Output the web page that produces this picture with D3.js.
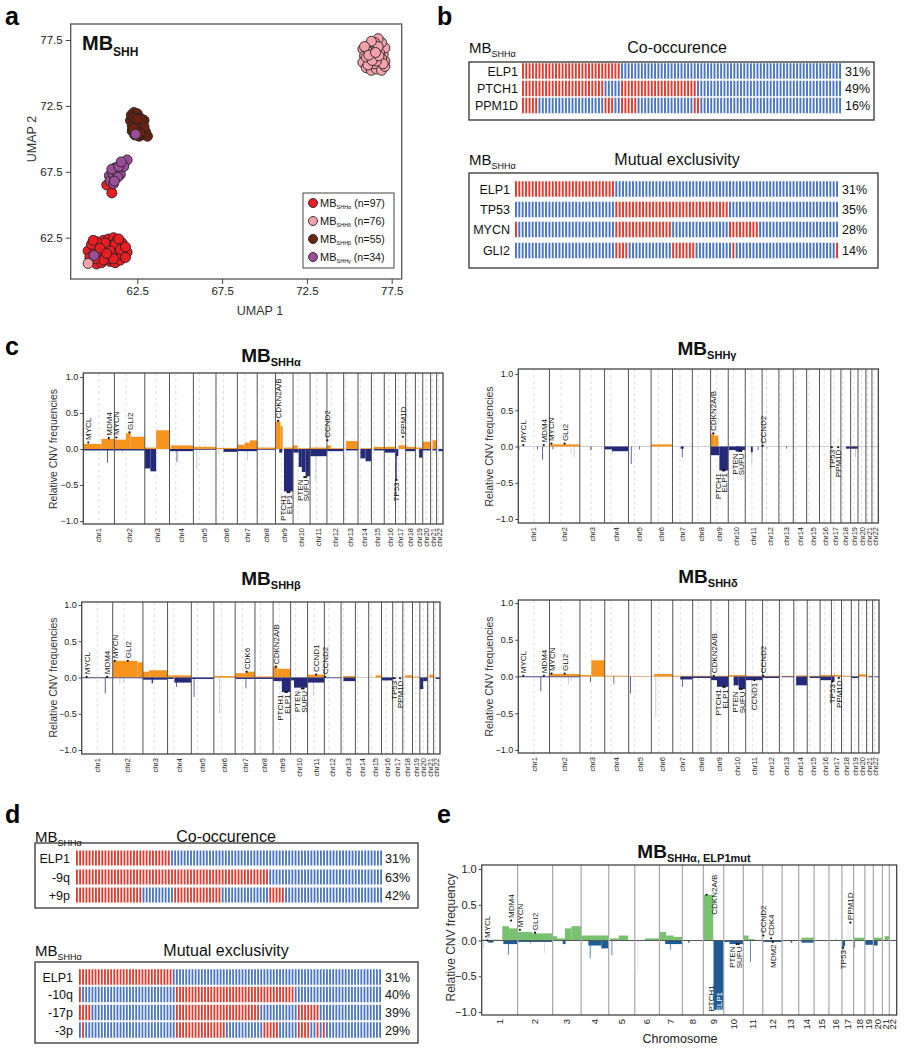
<!DOCTYPE html>
<html>
<head>
<meta charset="utf-8">
<script src="https://cdn.jsdelivr.net/npm/d3@7"></script>
<style>
html,body{margin:0;padding:0;background:#fff;}
svg{display:block;}
text{font-family:"Liberation Sans",Arial,Helvetica,sans-serif;}
</style>
</head>
<body>
<svg id="fig" width="904" height="1050"></svg>
<script>
// ================= DATA =================
// ---- panel a : UMAP ----
const umapTicks = [62.5, 67.5, 72.5, 77.5];
const umapGroups = ["SHHα", "SHHδ", "SHHβ", "SHHγ"];
const umapN = ["(n=97)", "(n=76)", "(n=55)", "(n=34)"];
const umapAlpha = [[59.6,61.5],[59.7,61.0],[59.9,60.7],[60.1,60.5],[60.4,60.6],[60.2,61.1],[60.0,61.6],[60.3,62.0],[60.5,62.3],[60.8,62.4],[61.1,62.5],[61.3,62.3],[61.0,61.9],[60.7,61.8],[60.4,61.4],[60.6,61.0],[60.9,60.7],[61.2,60.6],[61.5,60.8],[61.7,61.1],[61.9,61.4],[61.6,61.5],[61.3,61.2],[61.0,61.3],[60.8,60.9],[61.4,61.9],[61.6,62.1],[61.2,62.0],[60.6,62.1],[60.1,62.2],[59.8,62.0],[60.3,61.7],[60.9,61.5],[61.5,61.6],[61.8,61.8],[60.5,60.8],[60.0,60.9],[61.1,60.9],[59.9,62.3],[61.4,62.4],[60.7,61.3],[61.8,61.0],[60.7,66.5],[61.0,65.9]];
const umapDelta = [[75.8,76.8],[75.9,76.3],[75.8,75.8],[76.0,75.4],[76.3,75.2],[76.6,75.3],[76.9,75.2],[77.1,75.5],[77.1,75.9],[77.0,76.4],[77.1,76.9],[76.9,77.3],[76.7,77.6],[76.5,77.3],[76.2,77.1],[76.0,76.9],[76.3,76.6],[76.6,76.8],[76.8,76.5],[76.5,76.2],[76.2,76.0],[76.5,75.7],[76.8,75.9],[76.1,75.6],[76.4,76.4],[76.7,77.0],[76.9,76.1],[76.0,76.2],[76.3,77.4],[75.9,77.0],[77.0,75.7],[76.6,75.9],[76.35,75.95],[76.75,76.3],[76.15,76.35],[76.55,76.55],[59.6,60.55]];
const umapBeta = [[62.1,71.4],[62.15,71.8],[62.3,72.0],[62.5,71.9],[62.6,71.6],[62.4,71.3],[62.2,71.0],[62.2,70.6],[62.35,70.3],[62.6,70.2],[62.8,70.3],[63.1,70.2],[63.0,70.5],[62.8,70.7],[62.6,70.9],[62.8,71.1],[62.9,71.4],[62.7,71.3],[62.45,70.65],[62.3,71.6],[62.55,71.15],[62.9,70.9],[62.4,70.9],[62.65,70.45],[62.25,70.8],[62.75,71.5],[62.5,71.5]];
const umapGamma = [[60.85,67.2],[60.9,66.8],[61.1,66.6],[61.2,67.0],[61.05,67.4],[61.3,67.5],[61.2,67.8],[61.45,67.75],[61.6,68.0],[61.75,68.2],[61.9,68.4],[61.5,67.3],[61.35,67.1],[61.0,67.7],[61.7,67.9],[61.15,66.8],[61.4,67.9],[61.55,68.25],[62.4,70.35],[59.95,61.15]];

// ---- panels b / d : oncoprints (index ranges of altered samples) ----
const nSamples = 97;
const coNames = ["ELP1", "PTCH1", "PPM1D"];
const coPct = ["31%", "49%", "16%"];
const coAlt = [[[0,29]], [[0,24],[30,52]], [[0,4],[25,27],[30,34],[52,53]]];
const meNames = ["ELP1", "TP53", "MYCN", "GLI2"];
const mePct = ["31%", "35%", "28%", "14%"];
const meAlt = [[[0,29]], [[30,63]], [[0,0],[30,46],[64,72]], [[30,33],[47,53],[65,65],[96,96]]];
const cnCoNames = ["ELP1", "-9q", "+9p"];
const cnCoPct = ["31%", "63%", "42%"];
const cnCoAlt = [[[0,29]], [[0,60]], [[0,20],[31,45],[61,65]]];
const cnMeNames = ["ELP1", "-10q", "-17p", "-3p"];
const cnMePct = ["31%", "40%", "39%", "29%"];
const cnMeAlt = [[[0,29]], [[0,0],[31,68]], [[0,3],[31,57],[70,76]], [[1,1],[31,46],[59,63],[70,73],[76,76],[78,78]]];

// ---- panels c / e : CNV frequency ----
const chrLen = [249,243,198,191,181,171,159,146,141,136,135,134,115,107,103,90,81,78,59,63,48,51];
const centromere = [125,93,91,50,48,60,60,45,49,40,53,35,18,18,19,37,24,17,27,28,13,15];
const cnvTicks = [1, 0.5, 0, -0.5, -1];
const genePos = [["MYCL",1,40],["MDM4",1,204],["MYCN",2,16],["GLI2",2,121],["CDK6",7,92],["CDKN2A/B",9,22],["PTCH1",9,98],["ELP1",9,111],["PTEN",10,90],["SUFU",10,104],["CCND1",11,69],["CCND2",12,4],["CDK4",12,58],["MDM2",12,69],["TP53",17,7.5],["PPM1D",17,58.7]];
// segments: [chr, startMb, endMb, frequency, faint]
const gainsA = [[1,0,145,0.07],[1,145,249,0.14],[1,200,204,0.2,1],[2,0,93,0.13],[2,93,130,0.22],[2,130,243,0.17],[3,0,91,0.02],[3,91,198,0.26],[4,10,191,0.05],[5,0,181,0.03],[5,90,93,0.08,1],[6,0,171,0.015],[7,0,60,0.06],[7,60,100,0.09],[7,100,159,0.12],[8,0,146,0.02],[9,0,40,0.38],[9,40,58,0.32],[9,68,141,0.02],[10,0,35,0.05],[10,35,136,0.01],[11,0,135,0.02],[12,0,30,0.05],[12,30,134,0.01],[13,19,113,0.11],[13,80,83,0.16,1],[14,20,107,0.01],[15,20,103,0.03],[16,0,90,0.03],[17,25,81,0.05],[17,56,60,0.17,1],[17,40,43,0.12,1],[18,0,78,0.03],[19,0,59,0.02],[20,0,63,0.1],[21,15,48,0.12]];
const lossesA = [[1,0,249,-0.02],[1,190,196,-0.19],[2,0,243,-0.02],[2,60,63,-0.06,1],[3,0,45,-0.27],[3,45,91,-0.31],[4,0,191,-0.03],[4,57,61,-0.18],[5,0,181,-0.01],[5,25,29,-0.28,1],[6,20,23,-0.08,1],[6,60,171,-0.04],[7,0,159,-0.03],[7,78,82,-0.16,1],[8,0,146,-0.01],[9,30,55,-0.05],[9,68,141,-0.59],[10,0,45,-0.05],[10,45,70,-0.25],[10,70,100,-0.32],[10,100,136,-0.38],[11,0,135,-0.1],[11,43,47,-0.45,1],[12,0,134,-0.03],[13,19,115,-0.02],[14,19,60,-0.13],[14,60,107,-0.17],[15,20,103,-0.02],[16,0,90,-0.05],[17,0,22,-0.1],[17,6,9,-0.42],[18,0,78,-0.03],[19,30,59,-0.12],[20,0,63,-0.02],[21,15,48,-0.02],[22,15,51,-0.03]];
const gainsG = [[2,0,243,0.03],[3,60,63,0.02,1],[6,0,171,0.03],[7,140,145,0.05,1],[9,0,30,0.17],[9,30,62,0.15],[15,60,63,0.03,1],[17,55,60,0.12,1],[19,20,30,0.02]];
const lossesG = [[1,5,8,-0.05,1],[1,150,153,-0.04],[1,192,198,-0.18],[2,25,28,-0.04],[2,170,174,-0.1,1],[2,195,199,-0.15,1],[3,85,92,-0.05],[4,0,59,-0.04],[4,59,191,-0.065],[4,60,64,-0.1,1],[5,19,23,-0.24],[5,85,90,-0.04],[7,65,90,-0.03],[7,75,80,-0.15],[9,0,70,-0.12],[9,70,141,-0.33],[10,5,136,-0.05],[10,60,100,-0.07],[11,45,60,-0.08],[11,50,55,-0.25,1],[11,100,104,-0.05],[12,40,44,-0.03,1],[13,60,64,-0.03],[15,50,54,-0.03,1],[18,40,78,-0.03],[19,0,59,-0.03],[19,35,38,-0.15,1]];
const gainsB = [[1,0,249,0.005],[2,0,200,0.23],[2,200,243,0.21],[3,0,50,0.08],[3,50,198,0.1],[4,0,191,0.03],[6,0,171,0.02],[7,0,85,0.06],[7,85,159,0.08],[8,0,146,0.015],[9,0,35,0.15],[9,35,141,0.12],[11,0,135,0.04],[13,19,115,0.02],[15,20,23,0.07,1],[15,55,103,0.03],[18,20,78,0.03],[19,0,59,0.01],[20,40,63,0.01],[21,15,48,0.04]];
const lossesB = [[1,0,249,-0.01],[1,186,192,-0.22],[2,0,243,-0.01],[2,55,58,-0.1,1],[2,85,88,-0.08,1],[3,0,198,-0.03],[3,70,80,-0.08],[4,0,50,-0.02],[4,55,191,-0.07],[4,70,74,-0.13],[5,0,181,-0.02],[5,19,23,-0.27],[6,44,47,-0.5,1],[7,0,159,-0.02],[7,84,88,-0.15],[8,0,146,-0.02],[9,0,70,-0.05],[9,70,141,-0.2],[10,0,27,-0.04],[10,27,136,-0.14],[11,0,135,-0.07],[11,44,48,-0.25,1],[12,0,134,-0.01],[13,19,115,-0.05],[16,0,90,-0.04],[17,0,25,-0.02],[20,0,27,-0.16],[20,27,63,-0.05],[22,15,51,-0.02]];
const gainsD = [[2,0,243,0.035],[3,0,91,0.02],[3,91,198,0.22],[4,0,191,0.01],[5,0,181,0.005],[6,20,171,0.035],[7,0,159,0.01],[8,0,146,0.01],[9,0,141,0.01],[10,0,136,0.02],[11,0,135,0.01],[12,0,134,0.01],[13,19,115,0.01],[14,19,107,0.015],[15,20,103,0.01],[16,0,90,0.02],[17,0,81,0.02],[17,20,23,0.05],[18,0,78,0.01],[20,0,63,0.03],[21,15,48,0.01]];
const lossesD = [[1,0,249,-0.01],[1,177,183,-0.2],[2,0,243,-0.01],[2,150,154,-0.1,1],[2,170,174,-0.06,1],[3,80,84,-0.08],[4,70,74,-0.1],[5,11,15,-0.23],[6,33,36,-0.55,1],[7,60,159,-0.04],[7,75,79,-0.14],[8,0,146,-0.02],[9,0,48,-0.05],[9,48,141,-0.14],[10,40,80,-0.12],[10,80,136,-0.17],[11,0,135,-0.05],[11,46,50,-0.45,1],[12,0,134,-0.02],[13,19,115,-0.01],[14,19,107,-0.12],[15,20,103,-0.02],[16,0,90,-0.05],[17,0,25,-0.07],[19,0,59,-0.02],[21,15,48,-0.01],[22,15,51,-0.01]];
const gainsE = [[1,0,125,0.02,1],[1,143,190,0.2],[1,190,249,0.17],[1,245,249,0.06,1],[2,0,100,0.12],[2,100,243,0.1],[3,0,30,0.06],[3,30,85,0.03],[3,85,130,0.17],[3,130,198,0.2],[4,0,191,0.07],[5,10,70,0.03],[5,70,135,0.07],[6,70,171,0.03],[7,0,45,0.12],[7,45,100,0.07],[7,100,159,0.05],[8,0,146,0.005],[9,0,68,0.64],[11,0,37,0.07],[11,37,80,0.02],[11,125,130,0.1,1],[14,20,107,0.04],[16,40,60,0.03,1],[17,40,44,0.2,1],[17,55,60,0.16,1],[18,0,78,0.04],[20,0,63,0.04],[21,15,48,0.06]];
const lossesE = [[1,10,14,-0.1,1],[1,46,81,-0.03],[1,150,249,-0.05],[1,183,188,-0.2],[2,0,243,-0.02],[2,85,88,-0.04],[2,184,188,-0.17,1],[3,70,90,-0.05],[4,50,140,-0.07],[4,140,191,-0.11],[4,60,64,-0.25],[5,20,24,-0.21],[6,20,23,-0.4,1],[7,40,159,-0.05],[7,73,77,-0.13],[8,40,50,-0.03],[9,70,141,-0.97],[10,0,40,-0.02],[10,40,136,-0.05],[11,46,50,-0.3],[12,0,134,-0.02],[13,60,70,-0.03],[14,20,107,-0.03],[17,0,22,-0.08],[17,6,9,-0.13],[18,5,10,-0.1],[19,0,59,-0.06],[20,0,30,-0.07]];
// gene labels: [gene, frequency at label, side]
const genesA = [["MYCL",0.09,"up"],["MDM4",0.15,"up"],["MYCN",0.16,"up"],["GLI2",0.23,"up"],["CDKN2A/B",0.39,"up"],["CCND2",0.12,"up"],["PPM1D",0.17,"up"],["PTCH1",-0.6,"down"],["ELP1",-0.6,"down"],["PTEN",-0.39,"down"],["SUFU",-0.39,"down"],["TP53",-0.43,"down"]];
const genesG = [["MYCL",0.02,"up"],["MDM4",0.02,"up"],["MYCN",0.04,"up"],["GLI2",0.04,"up"],["CDKN2A/B",0.18,"up"],["CCND2",0.01,"up"],["PTCH1",-0.33,"down"],["ELP1",-0.33,"down"],["PTEN",-0.06,"down"],["SUFU",-0.06,"down"],["TP53",-0.01,"down"],["PPM1D",-0.01,"down"]];
const genesB = [["MYCL",0.01,"up"],["MDM4",0.01,"up"],["MYCN",0.23,"up"],["GLI2",0.23,"up"],["CDK6",0.08,"up"],["CDKN2A/B",0.15,"up"],["CCND1",0.04,"up"],["CCND2",0.01,"up"],["PTCH1",-0.2,"down"],["ELP1",-0.2,"down"],["PTEN",-0.15,"down"],["SUFU",-0.15,"down"],["TP53",-0.01,"down"],["PPM1D",-0.01,"down"]];
const genesD = [["MYCL",0.01,"up"],["MDM4",0.01,"up"],["MYCN",0.04,"up"],["GLI2",0.04,"up"],["CDKN2A/B",0.01,"up"],["CCND2",0.01,"up"],["PTCH1",-0.14,"down"],["ELP1",-0.14,"down"],["PTEN",-0.17,"down"],["SUFU",-0.17,"down"],["CCND1",-0.05,"down"],["TP53",-0.07,"down"],["PPM1D",-0.02,"down"]];
const genesE = [["MYCL",0.0,"up"],["MDM4",0.28,"up"],["MYCN",0.15,"up"],["GLI2",0.11,"up"],["CDKN2A/B",0.64,"side"],["CCND2",0.07,"up"],["CDK4",0.03,"up"],["PPM1D",0.25,"up"],["PTCH1",-0.98,"in"],["ELP1",-0.98,"in"],["PTEN",-0.05,"down"],["SUFU",-0.05,"down"],["MDM2",-0.02,"down"],["TP53",-0.1,"down"]];

// ================= STYLE =================
const umapColors = ["#ec1c24", "#f5a3aa", "#6b2310", "#9b4e98"];
const ALT = "#e23b2e", WT = "#4a76c3";
const svg = d3.select("#fig");

function mbText(g, x, y, sub, o) {
  const t = g.append("text").attr("x", x).attr("y", y)
    .attr("text-anchor", o.anchor || "start").attr("fill", "#111")
    .attr("font-weight", o.bold ? "bold" : "normal");
  t.append("tspan").attr("font-size", o.fs).text("MB");
  t.append("tspan").attr("font-size", o.sfs).attr("dy", o.dy).text(sub);
  if (o.rest) t.append("tspan").attr("font-size", o.rfs).attr("dy", -o.dy).text(o.rest);
  return t;
}
function letter(x, y, s) {
  svg.append("text").attr("x", x).attr("y", y).attr("font-size", 25).attr("font-weight", "bold").attr("fill", "#000").text(s);
}
letter(5, 25, "a"); letter(437, 25, "b"); letter(5, 355, "c"); letter(5, 823, "d"); letter(437, 823, "e");

// ================= PANEL A =================
(function () {
  const g = svg.append("g");
  const xa = d3.scaleLinear().domain([62.5, 77.5]).range([137.3, 391.7]);
  const ya = d3.scaleLinear().domain([62.5, 77.5]).range([237.7, 40]);
  g.append("rect").attr("x", 70.7).attr("y", 24).attr("width", 331).attr("height", 255)
    .attr("fill", "none").attr("stroke", "#555").attr("stroke-width", 1.3);
  const axL = g.append("g").attr("transform", "translate(70.7,0)")
    .call(d3.axisLeft(ya).tickValues(umapTicks).tickSize(5).tickPadding(3).tickFormat(d3.format(".1f")));
  const axB = g.append("g").attr("transform", "translate(0,279)")
    .call(d3.axisBottom(xa).tickValues(umapTicks).tickSize(5).tickPadding(3).tickFormat(d3.format(".1f")));
  [axL, axB].forEach(a => {
    a.select(".domain").remove();
    a.selectAll("text").attr("font-size", 11.5).attr("font-family", "Liberation Sans, Arial, sans-serif").attr("fill", "#222");
    a.selectAll("line").attr("stroke", "#444");
  });
  const sets = [umapAlpha, umapDelta, umapBeta, umapGamma];
  sets.forEach((pts, i) => {
    g.append("g").selectAll("circle").data(pts).join("circle")
      .attr("cx", d => xa(d[0])).attr("cy", d => ya(d[1])).attr("r", 5)
      .attr("fill", umapColors[i]).attr("stroke", "#222").attr("stroke-width", 0.9);
  });
  mbText(g, 82, 50, "SHH", { fs: 20, sfs: 12, dy: 6, bold: true });
  // legend
  g.append("rect").attr("x", 303).attr("y", 193).attr("width", 91).attr("height", 75)
    .attr("fill", "#fff").attr("stroke", "#444").attr("stroke-width", 1);
  umapGroups.forEach((s, i) => {
    const yy = 203 + i * 18;
    g.append("circle").attr("cx", 313).attr("cy", yy).attr("r", 4.5)
      .attr("fill", umapColors[i]).attr("stroke", "#222").attr("stroke-width", 0.9);
    mbText(g, 320, yy + 4, s, { fs: 11, sfs: 5.5, dy: 1.5, rest: " " + umapN[i], rfs: 10.5 });
  });
  g.append("text").attr("x", 260).attr("y", 315).attr("text-anchor", "middle").attr("font-size", 12.5).attr("fill", "#333").text("UMAP 1");
  g.append("text").attr("transform", "translate(36,139) rotate(-90)").attr("text-anchor", "middle").attr("font-size", 12.5).attr("fill", "#333").text("UMAP 2");
})();

// ================= ONCOPRINTS =================
function oncoPanel(o) {
  const g = svg.append("g");
  g.append("rect").attr("x", o.box[0]).attr("y", o.box[1])
    .attr("width", o.box[2] - o.box[0]).attr("height", o.box[3] - o.box[1])
    .attr("fill", "none").attr("stroke", "#333").attr("stroke-width", 1.3);
  const xb = d3.scaleBand().domain(d3.range(nSamples)).range(o.bars).paddingInner(0.42);
  o.names.forEach((nm, i) => {
    const alt = new Set();
    o.alt[i].forEach(([a, b]) => d3.range(a, b + 1).forEach(k => alt.add(k)));
    const cy = o.rows[i];
    g.append("g").selectAll("rect").data(d3.range(nSamples)).join("rect")
      .attr("x", d => xb(d)).attr("y", cy - o.barH / 2)
      .attr("width", xb.bandwidth()).attr("height", o.barH)
      .attr("fill", d => alt.has(d) ? ALT : WT);
    g.append("text").attr("x", o.labelX).attr("y", cy + 4.5).attr("text-anchor", "end").attr("font-size", 12.5).attr("fill", "#111").text(nm);
    g.append("text").attr("x", o.pctX).attr("y", cy + 4.5).attr("font-size", 12.5).attr("fill", "#111").text(o.pct[i]);
  });
  mbText(g, o.box[0], o.titleY, "SHHα", { fs: 15, sfs: 9, dy: 4 });
  g.append("text").attr("x", o.titleX).attr("y", o.titleY).attr("text-anchor", "middle").attr("font-size", 16).attr("fill", "#111").text(o.title);
}
oncoPanel({ box: [469, 62, 874, 120], bars: [522, 841], rows: [71, 88.5, 105.5], barH: 15.5, labelX: 518, pctX: 845, titleX: 677, titleY: 53, title: "Co-occurence", names: coNames, alt: coAlt, pct: coPct });
oncoPanel({ box: [469, 173, 878, 268], bars: [515, 838], rows: [189, 209.5, 229.5, 250.5], barH: 15.5, labelX: 510, pctX: 842, titleX: 677, titleY: 165, title: "Mutual exclusivity", names: meNames, alt: meAlt, pct: mePct });
oncoPanel({ box: [35, 843, 418, 908], bars: [76, 382], rows: [858, 877, 895], barH: 15, labelX: 70, pctX: 385, titleX: 226, titleY: 842, title: "Co-occurence", names: cnCoNames, alt: cnCoAlt, pct: cnCoPct });
oncoPanel({ box: [35, 962, 418, 1043], bars: [79, 381], rows: [977, 994.5, 1012.5, 1030], barH: 15.5, labelX: 73, pctX: 385, titleX: 226, titleY: 956, title: "Mutual exclusivity", names: cnMeNames, alt: cnMeAlt, pct: cnMePct });

// ================= CNV PANELS =================
function cnvPanel(o) {
  const g = svg.append("g");
  const cum = [0];
  chrLen.forEach(l => cum.push(cum[cum.length - 1] + l));
  const x = d3.scaleLinear().domain([0, cum[cum.length - 1]]).range([o.x0, o.x1]);
  const y = d3.scaleLinear().domain([-1, 1]).range([o.yM1, o.yP1]);
  const gx = (c, p) => x(cum[c - 1] + p);
  if (o.centro) {
    g.append("g").selectAll("line").data(centromere).join("line")
      .attr("x1", (d, i) => gx(i + 1, d)).attr("x2", (d, i) => gx(i + 1, d))
      .attr("y1", o.top).attr("y2", o.bottom)
      .attr("stroke", "#d6d6d6").attr("stroke-width", 0.8).attr("stroke-dasharray", "3,3");
  }
  if (!o.zeroOnTop) g.append("line").attr("x1", o.x0).attr("x2", o.x1).attr("y1", y(0)).attr("y2", y(0)).attr("stroke", o.zeroColor).attr("stroke-width", 1);
  const segs = o.gains.map(d => ({ d, gain: true })).concat(o.losses.map(d => ({ d, gain: false })));
  segs.sort((a, b) => (b.d[4] || 0) - (a.d[4] || 0));
  g.append("g").selectAll("rect").data(segs).join("rect")
    .attr("x", s => gx(s.d[0], s.d[1]))
    .attr("width", s => Math.max(0.7, gx(s.d[0], s.d[2]) - gx(s.d[0], s.d[1])))
    .attr("y", s => y(Math.max(0, s.d[3])))
    .attr("height", s => Math.abs(y(s.d[3]) - y(0)))
    .attr("fill", s => s.gain ? (s.d[4] ? o.gainFaint : o.gainColor) : (s.d[4] ? o.lossFaint : o.lossColor));
  if (o.zeroOnTop) g.append("line").attr("x1", o.x0).attr("x2", o.x1).attr("y1", y(0)).attr("y2", y(0)).attr("stroke", o.zeroColor).attr("stroke-width", 1.2);
  g.append("g").selectAll("line").data(cum.slice(1, 22)).join("line")
    .attr("x1", d => x(d)).attr("x2", d => x(d)).attr("y1", o.top).attr("y2", o.bottom)
    .attr("stroke", o.sepColor).attr("stroke-width", o.sepWidth);
  g.append("rect").attr("x", o.x0).attr("y", o.top).attr("width", o.x1 - o.x0).attr("height", o.bottom - o.top)
    .attr("fill", "none").attr("stroke", "#444").attr("stroke-width", 1.3);
  const ax = g.append("g").attr("transform", `translate(${o.x0},0)`)
    .call(d3.axisLeft(y).tickValues(cnvTicks).tickSize(3).tickPadding(2).tickFormat(d3.format(".1f")));
  ax.select(".domain").remove();
  ax.selectAll("text").attr("font-size", o.tickFs).attr("font-family", "Liberation Sans, Arial, sans-serif").attr("fill", "#222");
  ax.selectAll("line").attr("stroke", "#444");
  // chromosome labels
  g.append("g").selectAll("text").data(chrLen).join("text")
    .attr("transform", (d, i) => `translate(${gx(i + 1, d / 2) + o.chrFs * 0.35},${o.bottom + 4}) rotate(-90)`)
    .attr("text-anchor", "end").attr("font-size", o.chrFs).attr("fill", "#222")
    .text((d, i) => o.chrPrefix + (i + 1));
  // gene labels
  const gl = o.genes.map(([name, val, side]) => {
    const p = genePos.find(q => q[0] === name);
    const px = gx(p[1], p[2]);
    return { name, val, side, px, tx: px };
  });
  ["up", "down", "in"].forEach(side => {
    const gap = side === "in" ? 8.5 : 6.5;
    const arr = gl.filter(d => d.side === side).sort((a, b) => b.px - a.px);
    for (let i = 1; i < arr.length; i++) if (arr[i - 1].tx - arr[i].tx < gap) arr[i].tx = arr[i - 1].tx - gap;
  });
  gl.forEach(d => {
    const white = o.whiteGenes && o.whiteGenes.includes(d.name);
    const col = white ? "#fff" : "#111";
    if (d.side !== "in") g.append("circle").attr("cx", d.px).attr("cy", y(d.val)).attr("r", 1.1).attr("fill", "#111");
    let tf, anchor;
    if (d.side === "up") { tf = `translate(${d.tx + 3},${y(d.val) - 2.5}) rotate(-90)`; anchor = "start"; }
    else if (d.side === "down") { tf = `translate(${d.tx + 3},${y(d.val) + 2.5}) rotate(-90)`; anchor = "end"; }
    else if (d.side === "side") { tf = `translate(${d.px + 10},${y(d.val)}) rotate(-90)`; anchor = "middle"; }
    else { tf = `translate(${d.tx + 3},${y(d.val) + 1}) rotate(-90)`; anchor = "start"; }
    g.append("text").attr("transform", tf).attr("text-anchor", anchor).attr("font-size", 8)
      .attr("fill", col).text(d.name);
  });
  // y label
  g.append("text").attr("transform", `translate(${o.ylabX},${(o.yP1 + o.yM1) / 2 + (o.ylabDy || 0)}) rotate(-90)`)
    .attr("text-anchor", "middle").attr("font-size", o.ylabFs).attr("fill", "#333").text(o.ylab);
  // title
  mbText(g, o.titleX, o.titleY, o.sub, { fs: 19, sfs: 11, dy: 4, bold: true, anchor: "middle" });
  return { x, y };
}
const cStyle = { centro: true, zeroColor: "#cfcfcf", gainColor: "#f7941d", lossColor: "#25297a", gainFaint: "#fbd3a3", lossFaint: "#b3b8dc", sepColor: "#555", sepWidth: 1, tickFs: 9, chrFs: 7.5, chrPrefix: "chr", ylab: "Relative CNV frequencies", ylabFs: 10.5 };
cnvPanel(Object.assign({}, cStyle, { x0: 83.3, x1: 443, top: 373, bottom: 524, yP1: 377, yM1: 521, gains: gainsA, losses: lossesA, genes: genesA, ylabX: 57, titleX: 271, titleY: 362, sub: "SHHα" }));
cnvPanel(Object.assign({}, cStyle, { x0: 518.3, x1: 878.3, top: 369, bottom: 523, yP1: 374, yM1: 519, gains: gainsG, losses: lossesG, genes: genesG, ylabX: 493, titleX: 707, titleY: 355, sub: "SHHγ" }));
cnvPanel(Object.assign({}, cStyle, { x0: 81.7, x1: 440, top: 602, bottom: 754, yP1: 605, yM1: 750, gains: gainsB, losses: lossesB, genes: genesB, ylabX: 57, titleX: 271, titleY: 585, sub: "SHHβ" }));
cnvPanel(Object.assign({}, cStyle, { x0: 518.3, x1: 879, top: 600, bottom: 753, yP1: 603, yM1: 750, gains: gainsD, losses: lossesD, genes: genesD, ylabX: 493, titleX: 708, titleY: 583, sub: "SHHδ" }));
cnvPanel({ centro: false, zeroOnTop: true, zeroColor: "#555", gainColor: "#77c26f", lossColor: "#1d5b93", gainFaint: "#cfe9c9", lossFaint: "#c2d6ea", sepColor: "#a8a8a8", sepWidth: 1.2, tickFs: 11, chrFs: 9.5, chrPrefix: "", ylab: "Relative CNV frequency", ylabFs: 12,
  x0: 481.7, x1: 896.7, top: 865, bottom: 1015, yP1: 869, yM1: 1012, gains: gainsE, losses: lossesE, genes: genesE, whiteGenes: ["ELP1"], ylabX: 455, ylabDy: -3, titleX: 694, titleY: 858, sub: "SHHα, ELP1mut" });
svg.append("text").attr("x", 680).attr("y", 1043).attr("text-anchor", "middle").attr("font-size", 12.5).attr("fill", "#222").text("Chromosome");
</script>
</body>
</html>
